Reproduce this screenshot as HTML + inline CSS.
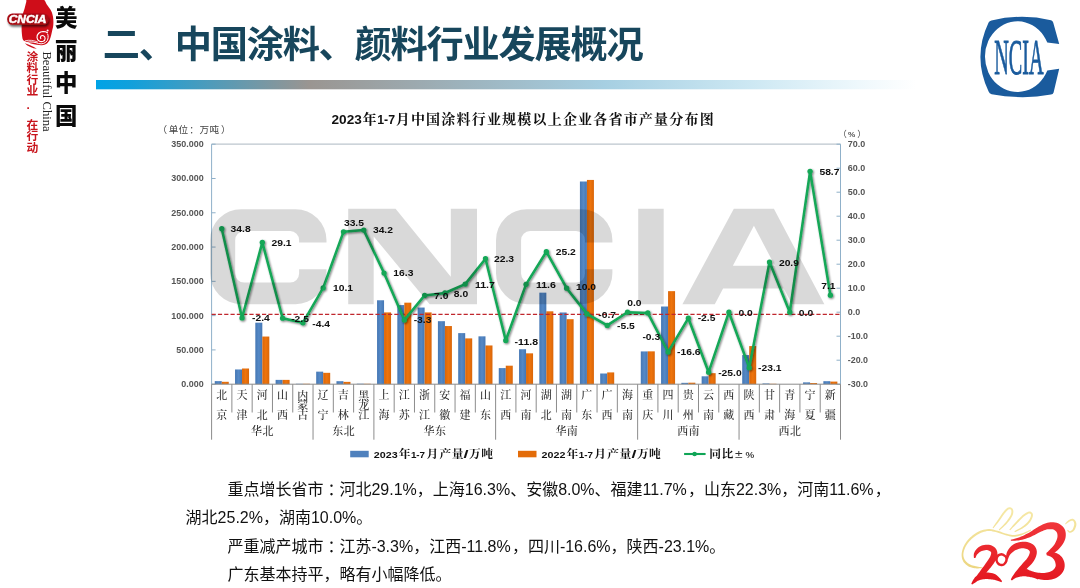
<!DOCTYPE html>
<html lang="zh-CN"><head><meta charset="utf-8"><title>二、中国涂料、颜料行业发展概况</title>
<style>
html,body{margin:0;padding:0;background:#fff}
body{width:1080px;height:588px;overflow:hidden;position:relative;font-family:"Liberation Sans",sans-serif}
svg{position:absolute;left:0;top:0;display:block;will-change:transform}
svg text{font-family:"Liberation Sans","Noto Sans CJK SC",sans-serif;white-space:pre}
svg text.cs{font-family:"Liberation Serif","Noto Serif CJK SC",serif}
.ser{font-family:"Liberation Serif",serif}
</style></head>
<body>
<svg width="1080" height="588" viewBox="0 0 1080 588" role="img" aria-label="二、中国涂料、颜料行业发展概况 — 2023年1-7月中国涂料行业规模以上企业各省市产量分布图">
<title>二、中国涂料、颜料行业发展概况</title>
<desc>2023年1-7月中国涂料行业规模以上企业各省市产量分布图（单位：万吨）。图例：2023年1-7月产量/万吨，2022年1-7月产量/万吨，同比±%。重点增长省市：河北29.1%，上海16.3%、安徽8.0%、福建11.7%，山东22.3%，河南11.6%，湖北25.2%，湖南10.0%。严重减产城市：江苏-3.3%，江西-11.8%，四川-16.6%，陕西-23.1%。广东基本持平，略有小幅降低。美丽中国 Beautiful China 涂料行业·在行动</desc>
<defs>
<linearGradient id="hb" x1="0" x2="1" y1="0" y2="0">
<stop offset="0" stop-color="#00a3e6"/><stop offset="0.04" stop-color="#10a0dc"/><stop offset="0.26" stop-color="#9a9591"/>
<stop offset="0.45" stop-color="#9db3bd"/><stop offset="0.62" stop-color="#a6cfe2"/><stop offset="0.8" stop-color="#cde8f3"/>
<stop offset="0.93" stop-color="#eef8fc"/><stop offset="1" stop-color="#ffffff"/></linearGradient>
<linearGradient id="gb" x1="0" x2="1" y1="0" y2="0"><stop offset="0" stop-color="#4577b4"/><stop offset="0.5" stop-color="#5589c6"/><stop offset="1" stop-color="#4577b4"/></linearGradient>
<linearGradient id="go" x1="0" x2="1" y1="0" y2="0"><stop offset="0" stop-color="#d9660a"/><stop offset="0.5" stop-color="#ee740c"/><stop offset="1" stop-color="#d9660a"/></linearGradient>
<filter id="sh" x="-5%" y="-5%" width="110%" height="115%"><feGaussianBlur in="SourceAlpha" stdDeviation="1.1"/><feOffset dx="0.8" dy="1.2"/><feComponentTransfer><feFuncA type="linear" slope="0.55"/></feComponentTransfer><feMerge><feMergeNode/><feMergeNode in="SourceGraphic"/></feMerge></filter>
<linearGradient id="gr" x1="0" x2="0" y1="0" y2="1"><stop offset="0" stop-color="#f0363a"/><stop offset="1" stop-color="#e3161f"/></linearGradient><linearGradient id="gy" x1="0" x2="0" y1="0" y2="1"><stop offset="0" stop-color="#f6e9a8"/><stop offset="1" stop-color="#ecd680"/></linearGradient>
<filter id="ls" x="-10%" y="-20%" width="125%" height="170%"><feGaussianBlur in="SourceAlpha" stdDeviation="1"/><feOffset dx="1.2" dy="1.6"/><feComponentTransfer><feFuncA type="linear" slope="0.6"/></feComponentTransfer><feMerge><feMergeNode/><feMergeNode in="SourceGraphic"/></feMerge></filter>
</defs>
<text x="102.7" y="58.1" font-size="37.2" font-weight="bold" fill="#17465c" textLength="541" lengthAdjust="spacing">二、中国涂料、颜料行业发展概况</text>
<rect x="96" y="80" width="820" height="9.3" fill="url(#hb)"/>
<g id="chart">
<text x="331.5" y="123.6" font-size="12" font-weight="bold" fill="#111" textLength="30.3" lengthAdjust="spacingAndGlyphs">2023</text>
<text class="cs" x="362.6" y="123.9" font-size="14" font-weight="bold" fill="#111">年</text>
<text x="377.2" y="123.6" font-size="12" font-weight="bold" fill="#111" textLength="17.8" lengthAdjust="spacingAndGlyphs">1-7</text>
<text class="cs" x="395.8" y="123.9" font-size="14" font-weight="bold" fill="#111">月</text>
<text class="cs" x="410.9" y="123.9" font-size="14" font-weight="bold" fill="#111" textLength="302.8" lengthAdjust="spacing">中国涂料行业规模以上企业各省市产量分布图</text>
<text x="157.5" y="132.9" font-size="9.6" fill="#444">（</text>
<text x="168.7" y="132.9" font-size="9.6" fill="#444" textLength="19.4" lengthAdjust="spacing">单位</text>
<text x="189.2" y="132.9" font-size="9.6" fill="#444">：</text>
<text x="199.4" y="132.9" font-size="9.6" fill="#444" textLength="19.6" lengthAdjust="spacing">万吨</text>
<text x="221.1" y="132.9" font-size="9.6" fill="#444">）</text>
<text x="837.9" y="137.4" font-size="8.8" fill="#444">（</text>
<text x="848" y="137.2" font-size="8" font-weight="bold" fill="#555" textLength="7.3" lengthAdjust="spacingAndGlyphs">%</text>
<text x="857.2" y="137.4" font-size="8.8" fill="#444">）</text>
<path d="M211.6 144.2 H840.5" stroke="#bcc6ce" stroke-width="1.3" fill="none"/>
<path d="M211.6 144.2 V384.2 M840.5 144.2 V384.2" stroke="#8fb0c9" stroke-width="1" fill="none"/>
<path d="M211.6 144.2h4M211.6 178.49h4M211.6 212.77h4M211.6 247.06h4M211.6 281.34h4M211.6 315.63h4M211.6 349.91h4M211.6 384.2h4M840.5 144.2h-4M840.5 168.2h-4M840.5 192.2h-4M840.5 216.2h-4M840.5 240.2h-4M840.5 264.2h-4M840.5 288.2h-4M840.5 312.2h-4M840.5 336.2h-4M840.5 360.2h-4M840.5 384.2h-4" stroke="#8fb0c9" stroke-width="1" fill="none"/>
<text x="203.7" y="147.2" text-anchor="end" font-size="8.5" font-weight="bold" fill="#555" textLength="32.45" lengthAdjust="spacingAndGlyphs">350.000</text>
<text x="203.7" y="181.49" text-anchor="end" font-size="8.5" font-weight="bold" fill="#555" textLength="32.45" lengthAdjust="spacingAndGlyphs">300.000</text>
<text x="203.7" y="215.77" text-anchor="end" font-size="8.5" font-weight="bold" fill="#555" textLength="32.45" lengthAdjust="spacingAndGlyphs">250.000</text>
<text x="203.7" y="250.06" text-anchor="end" font-size="8.5" font-weight="bold" fill="#555" textLength="32.45" lengthAdjust="spacingAndGlyphs">200.000</text>
<text x="203.7" y="284.34" text-anchor="end" font-size="8.5" font-weight="bold" fill="#555" textLength="32.45" lengthAdjust="spacingAndGlyphs">150.000</text>
<text x="203.7" y="318.63" text-anchor="end" font-size="8.5" font-weight="bold" fill="#555" textLength="32.45" lengthAdjust="spacingAndGlyphs">100.000</text>
<text x="203.7" y="352.91" text-anchor="end" font-size="8.5" font-weight="bold" fill="#555" textLength="27.45" lengthAdjust="spacingAndGlyphs">50.000</text>
<text x="203.7" y="387.2" text-anchor="end" font-size="8.5" font-weight="bold" fill="#555" textLength="22.45" lengthAdjust="spacingAndGlyphs">0.000</text>
<text x="847.7" y="147.2" font-size="8.5" font-weight="bold" fill="#555" textLength="17.45" lengthAdjust="spacingAndGlyphs">70.0</text>
<text x="847.7" y="171.2" font-size="8.5" font-weight="bold" fill="#555" textLength="17.45" lengthAdjust="spacingAndGlyphs">60.0</text>
<text x="847.7" y="195.2" font-size="8.5" font-weight="bold" fill="#555" textLength="17.45" lengthAdjust="spacingAndGlyphs">50.0</text>
<text x="847.7" y="219.2" font-size="8.5" font-weight="bold" fill="#555" textLength="17.45" lengthAdjust="spacingAndGlyphs">40.0</text>
<text x="847.7" y="243.2" font-size="8.5" font-weight="bold" fill="#555" textLength="17.45" lengthAdjust="spacingAndGlyphs">30.0</text>
<text x="847.7" y="267.2" font-size="8.5" font-weight="bold" fill="#555" textLength="17.45" lengthAdjust="spacingAndGlyphs">20.0</text>
<text x="847.7" y="291.2" font-size="8.5" font-weight="bold" fill="#555" textLength="17.45" lengthAdjust="spacingAndGlyphs">10.0</text>
<text x="847.7" y="315.2" font-size="8.5" font-weight="bold" fill="#555" textLength="12.45" lengthAdjust="spacingAndGlyphs">0.0</text>
<text x="847.7" y="339.2" font-size="8.5" font-weight="bold" fill="#555" textLength="20.35" lengthAdjust="spacingAndGlyphs">-10.0</text>
<text x="847.7" y="363.2" font-size="8.5" font-weight="bold" fill="#555" textLength="20.35" lengthAdjust="spacingAndGlyphs">-20.0</text>
<text x="847.7" y="387.2" font-size="8.5" font-weight="bold" fill="#555" textLength="20.35" lengthAdjust="spacingAndGlyphs">-30.0</text>
<rect x="214.75" y="381.11" width="7" height="3.09" fill="url(#gb)"/>
<rect x="221.75" y="381.8" width="7" height="2.4" fill="url(#go)"/>
<rect x="235.04" y="369.46" width="7" height="14.74" fill="url(#gb)"/>
<rect x="242.04" y="368.5" width="7" height="15.7" fill="url(#go)"/>
<rect x="255.32" y="322.69" width="7" height="61.51" fill="url(#gb)"/>
<rect x="262.32" y="336.54" width="7" height="47.66" fill="url(#go)"/>
<rect x="275.61" y="379.88" width="7" height="4.32" fill="url(#gb)"/>
<rect x="282.61" y="379.88" width="7" height="4.32" fill="url(#go)"/>
<rect x="295.9" y="383.79" width="7" height="0.41" fill="url(#gb)"/>
<rect x="302.9" y="383.79" width="7" height="0.41" fill="url(#go)"/>
<rect x="316.19" y="371.65" width="7" height="12.55" fill="url(#gb)"/>
<rect x="323.19" y="372.82" width="7" height="11.38" fill="url(#go)"/>
<rect x="336.47" y="381.18" width="7" height="3.02" fill="url(#gb)"/>
<rect x="343.47" y="381.87" width="7" height="2.33" fill="url(#go)"/>
<rect x="356.76" y="383.72" width="7" height="0.48" fill="url(#gb)"/>
<rect x="363.76" y="383.79" width="7" height="0.41" fill="url(#go)"/>
<rect x="377.05" y="300.27" width="7" height="83.93" fill="url(#gb)"/>
<rect x="384.05" y="312.41" width="7" height="71.79" fill="url(#go)"/>
<rect x="397.33" y="305.07" width="7" height="79.13" fill="url(#gb)"/>
<rect x="404.33" y="302.67" width="7" height="81.53" fill="url(#go)"/>
<rect x="417.62" y="307.54" width="7" height="76.66" fill="url(#gb)"/>
<rect x="424.62" y="312.41" width="7" height="71.79" fill="url(#go)"/>
<rect x="437.91" y="321.18" width="7" height="63.02" fill="url(#gb)"/>
<rect x="444.91" y="326.05" width="7" height="58.15" fill="url(#go)"/>
<rect x="458.2" y="333.11" width="7" height="51.09" fill="url(#gb)"/>
<rect x="465.2" y="338.39" width="7" height="45.81" fill="url(#go)"/>
<rect x="478.48" y="336.34" width="7" height="47.86" fill="url(#gb)"/>
<rect x="485.48" y="345.46" width="7" height="38.74" fill="url(#go)"/>
<rect x="498.77" y="368.09" width="7" height="16.11" fill="url(#gb)"/>
<rect x="505.77" y="365.69" width="7" height="18.51" fill="url(#go)"/>
<rect x="519.06" y="349.23" width="7" height="34.97" fill="url(#gb)"/>
<rect x="526.06" y="353.34" width="7" height="30.86" fill="url(#go)"/>
<rect x="539.34" y="292.66" width="7" height="91.54" fill="url(#gb)"/>
<rect x="546.34" y="311.31" width="7" height="72.89" fill="url(#go)"/>
<rect x="559.63" y="312.47" width="7" height="71.73" fill="url(#gb)"/>
<rect x="566.63" y="319.19" width="7" height="65.01" fill="url(#go)"/>
<rect x="579.92" y="181.5" width="7" height="202.7" fill="url(#gb)"/>
<rect x="586.92" y="179.93" width="7" height="204.27" fill="url(#go)"/>
<rect x="600.2" y="373.5" width="7" height="10.7" fill="url(#gb)"/>
<rect x="607.2" y="372.41" width="7" height="11.79" fill="url(#go)"/>
<rect x="640.78" y="351.42" width="7" height="32.78" fill="url(#gb)"/>
<rect x="647.78" y="351.35" width="7" height="32.85" fill="url(#go)"/>
<rect x="661.07" y="306.51" width="7" height="77.69" fill="url(#gb)"/>
<rect x="668.07" y="291.15" width="7" height="93.05" fill="url(#go)"/>
<rect x="681.35" y="382.83" width="7" height="1.37" fill="url(#gb)"/>
<rect x="688.35" y="382.69" width="7" height="1.51" fill="url(#go)"/>
<rect x="701.64" y="376.31" width="7" height="7.89" fill="url(#gb)"/>
<rect x="708.64" y="373.16" width="7" height="11.04" fill="url(#go)"/>
<rect x="742.21" y="355.06" width="7" height="29.14" fill="url(#gb)"/>
<rect x="749.21" y="346.07" width="7" height="38.13" fill="url(#go)"/>
<rect x="762.5" y="383.45" width="7" height="0.75" fill="url(#gb)"/>
<rect x="769.5" y="383.79" width="7" height="0.41" fill="url(#go)"/>
<rect x="803.08" y="382.35" width="7" height="1.85" fill="url(#gb)"/>
<rect x="810.08" y="383.03" width="7" height="1.17" fill="url(#go)"/>
<rect x="823.36" y="381.18" width="7" height="3.02" fill="url(#gb)"/>
<rect x="830.36" y="381.59" width="7" height="2.61" fill="url(#go)"/>
<path d="M211.6 384.2 H840.5" stroke="#8c8c8c" stroke-width="1" fill="none"/>
<path d="M211.6 384.2V439.7M231.89 384.2V412.5M252.17 384.2V412.5M272.46 384.2V412.5M292.75 384.2V412.5M313.04 384.2V439.7M333.32 384.2V412.5M353.61 384.2V412.5M373.9 384.2V439.7M394.18 384.2V412.5M414.47 384.2V412.5M434.76 384.2V412.5M455.05 384.2V412.5M475.33 384.2V412.5M495.62 384.2V439.7M515.91 384.2V412.5M536.19 384.2V412.5M556.48 384.2V412.5M576.77 384.2V412.5M597.05 384.2V412.5M617.34 384.2V412.5M637.63 384.2V439.7M657.92 384.2V412.5M678.2 384.2V412.5M698.49 384.2V412.5M718.78 384.2V412.5M739.06 384.2V439.7M759.35 384.2V412.5M779.64 384.2V412.5M799.93 384.2V412.5M820.21 384.2V412.5M840.5 384.2V439.7" stroke="#8c8c8c" stroke-width="1" fill="none"/>
<g font-size="11" font-weight="500" fill="#2b2b2b">
<text class="cs" x="216.14" y="399.37">北</text><text class="cs" x="216.14" y="419.07">京</text>
<text class="cs" x="236.43" y="399.37">天</text><text class="cs" x="236.43" y="419.07">津</text>
<text class="cs" x="256.72" y="399.37">河</text><text class="cs" x="256.72" y="419.07">北</text>
<text class="cs" x="277" y="399.37">山</text><text class="cs" x="277" y="419.07">西</text>
<text class="cs" x="297.29" y="400.37">内</text><text class="cs" x="297.29" y="409.37">蒙</text><text class="cs" x="297.29" y="418.57">古</text>
<text class="cs" x="317.58" y="399.37">辽</text><text class="cs" x="317.58" y="419.07">宁</text>
<text class="cs" x="337.87" y="399.37">吉</text><text class="cs" x="337.87" y="419.07">林</text>
<text class="cs" x="358.15" y="400.37">黑</text><text class="cs" x="358.15" y="409.37">龙</text><text class="cs" x="358.15" y="418.57">江</text>
<text class="cs" x="378.44" y="399.37">上</text><text class="cs" x="378.44" y="419.07">海</text>
<text class="cs" x="398.73" y="399.37">江</text><text class="cs" x="398.73" y="419.07">苏</text>
<text class="cs" x="419.01" y="399.37">浙</text><text class="cs" x="419.01" y="419.07">江</text>
<text class="cs" x="439.3" y="399.37">安</text><text class="cs" x="439.3" y="419.07">徽</text>
<text class="cs" x="459.59" y="399.37">福</text><text class="cs" x="459.59" y="419.07">建</text>
<text class="cs" x="479.88" y="399.37">山</text><text class="cs" x="479.88" y="419.07">东</text>
<text class="cs" x="500.16" y="399.37">江</text><text class="cs" x="500.16" y="419.07">西</text>
<text class="cs" x="520.45" y="399.37">河</text><text class="cs" x="520.45" y="419.07">南</text>
<text class="cs" x="540.74" y="399.37">湖</text><text class="cs" x="540.74" y="419.07">北</text>
<text class="cs" x="561.02" y="399.37">湖</text><text class="cs" x="561.02" y="419.07">南</text>
<text class="cs" x="581.31" y="399.37">广</text><text class="cs" x="581.31" y="419.07">东</text>
<text class="cs" x="601.6" y="399.37">广</text><text class="cs" x="601.6" y="419.07">西</text>
<text class="cs" x="621.89" y="399.37">海</text><text class="cs" x="621.89" y="419.07">南</text>
<text class="cs" x="642.17" y="399.37">重</text><text class="cs" x="642.17" y="419.07">庆</text>
<text class="cs" x="662.46" y="399.37">四</text><text class="cs" x="662.46" y="419.07">川</text>
<text class="cs" x="682.75" y="399.37">贵</text><text class="cs" x="682.75" y="419.07">州</text>
<text class="cs" x="703.03" y="399.37">云</text><text class="cs" x="703.03" y="419.07">南</text>
<text class="cs" x="723.32" y="399.37">西</text><text class="cs" x="723.32" y="419.07">藏</text>
<text class="cs" x="743.61" y="399.37">陕</text><text class="cs" x="743.61" y="419.07">西</text>
<text class="cs" x="763.9" y="399.37">甘</text><text class="cs" x="763.9" y="419.07">肃</text>
<text class="cs" x="784.18" y="399.37">青</text><text class="cs" x="784.18" y="419.07">海</text>
<text class="cs" x="804.47" y="399.37">宁</text><text class="cs" x="804.47" y="419.07">夏</text>
<text class="cs" x="824.76" y="399.37">新</text><text class="cs" x="824.76" y="419.07">疆</text>
<text class="cs" x="251.12" y="434.87" textLength="22.4" lengthAdjust="spacing">华北</text>
<text class="cs" x="332.27" y="434.87" textLength="22.4" lengthAdjust="spacing">东北</text>
<text class="cs" x="423.56" y="434.87" textLength="22.4" lengthAdjust="spacing">华东</text>
<text class="cs" x="555.42" y="434.87" textLength="22.4" lengthAdjust="spacing">华南</text>
<text class="cs" x="677.15" y="434.87" textLength="22.4" lengthAdjust="spacing">西南</text>
<text class="cs" x="778.58" y="434.87" textLength="22.4" lengthAdjust="spacing">西北</text>
</g>
<path d="M211.6 314.4H840.5" stroke="#c0272d" stroke-width="1.3" stroke-dasharray="4.2 2.1" fill="none"/>
<g filter="url(#sh)"><path d="M221.74 228.68 L242.03 317.96 L262.32 242.36 L282.6 318.2 L302.89 322.76 L323.18 287.96 L343.47 231.8 L363.75 230.12 L384.04 273.08 L404.33 320.12 L424.61 295.4 L444.9 293 L465.19 284.12 L485.48 258.68 L505.76 340.52 L526.05 284.36 L546.34 251.72 L566.62 288.2 L586.91 313.88 L607.2 325.4 L627.49 312.2 L647.77 312.92 L668.06 352.04 L688.35 318.2 L708.63 372.2 L728.92 312.2 L749.21 367.64 L769.5 262.04 L789.78 312.2 L810.07 171.32 L830.36 295.16" stroke="#12a757" stroke-width="2.5" fill="none" stroke-linejoin="round" stroke-linecap="round"/>
<circle cx="221.74" cy="228.68" r="2.65" fill="#12a757"/><circle cx="242.03" cy="317.96" r="2.65" fill="#12a757"/><circle cx="262.32" cy="242.36" r="2.65" fill="#12a757"/><circle cx="282.6" cy="318.2" r="2.65" fill="#12a757"/><circle cx="302.89" cy="322.76" r="2.65" fill="#12a757"/><circle cx="323.18" cy="287.96" r="2.65" fill="#12a757"/><circle cx="343.47" cy="231.8" r="2.65" fill="#12a757"/><circle cx="363.75" cy="230.12" r="2.65" fill="#12a757"/><circle cx="384.04" cy="273.08" r="2.65" fill="#12a757"/><circle cx="404.33" cy="320.12" r="2.65" fill="#12a757"/><circle cx="424.61" cy="295.4" r="2.65" fill="#12a757"/><circle cx="444.9" cy="293" r="2.65" fill="#12a757"/><circle cx="465.19" cy="284.12" r="2.65" fill="#12a757"/><circle cx="485.48" cy="258.68" r="2.65" fill="#12a757"/><circle cx="505.76" cy="340.52" r="2.65" fill="#12a757"/><circle cx="526.05" cy="284.36" r="2.65" fill="#12a757"/><circle cx="546.34" cy="251.72" r="2.65" fill="#12a757"/><circle cx="566.62" cy="288.2" r="2.65" fill="#12a757"/><circle cx="586.91" cy="313.88" r="2.65" fill="#12a757"/><circle cx="607.2" cy="325.4" r="2.65" fill="#12a757"/><circle cx="627.49" cy="312.2" r="2.65" fill="#12a757"/><circle cx="647.77" cy="312.92" r="2.65" fill="#12a757"/><circle cx="668.06" cy="352.04" r="2.65" fill="#12a757"/><circle cx="688.35" cy="318.2" r="2.65" fill="#12a757"/><circle cx="708.63" cy="372.2" r="2.65" fill="#12a757"/><circle cx="728.92" cy="312.2" r="2.65" fill="#12a757"/><circle cx="749.21" cy="367.64" r="2.65" fill="#12a757"/><circle cx="769.5" cy="262.04" r="2.65" fill="#12a757"/><circle cx="789.78" cy="312.2" r="2.65" fill="#12a757"/><circle cx="810.07" cy="171.32" r="2.65" fill="#12a757"/><circle cx="830.36" cy="295.16" r="2.65" fill="#12a757"/></g>
<text x="230.6" y="232.2" font-size="9" font-weight="bold" fill="#111" textLength="20.1" lengthAdjust="spacingAndGlyphs">34.8</text>
<text x="271.5" y="245.8" font-size="9" font-weight="bold" fill="#111" textLength="20.1" lengthAdjust="spacingAndGlyphs">29.1</text>
<text x="343.9" y="225.7" font-size="9" font-weight="bold" fill="#111" textLength="20.1" lengthAdjust="spacingAndGlyphs">33.5</text>
<text x="372.9" y="233.2" font-size="9" font-weight="bold" fill="#111" textLength="20.1" lengthAdjust="spacingAndGlyphs">34.2</text>
<text x="393.3" y="276.4" font-size="9" font-weight="bold" fill="#111" textLength="20.1" lengthAdjust="spacingAndGlyphs">16.3</text>
<text x="333" y="290.7" font-size="9" font-weight="bold" fill="#111" textLength="20.1" lengthAdjust="spacingAndGlyphs">10.1</text>
<text x="494" y="261.8" font-size="9" font-weight="bold" fill="#111" textLength="20.1" lengthAdjust="spacingAndGlyphs">22.3</text>
<text x="474.9" y="288" font-size="9" font-weight="bold" fill="#111" textLength="20.1" lengthAdjust="spacingAndGlyphs">11.7</text>
<text x="453.8" y="296.5" font-size="9" font-weight="bold" fill="#111" textLength="14.35" lengthAdjust="spacingAndGlyphs">8.0</text>
<text x="434.1" y="298.8" font-size="9" font-weight="bold" fill="#111" textLength="14.35" lengthAdjust="spacingAndGlyphs">7.0</text>
<text x="252.1" y="321.3" font-size="9" font-weight="bold" fill="#111" textLength="17.75" lengthAdjust="spacingAndGlyphs">-2.4</text>
<text x="291.2" y="322.3" font-size="9" font-weight="bold" fill="#111" textLength="17.75" lengthAdjust="spacingAndGlyphs">-2.5</text>
<text x="312.3" y="326.8" font-size="9" font-weight="bold" fill="#111" textLength="17.75" lengthAdjust="spacingAndGlyphs">-4.4</text>
<text x="413.7" y="323.3" font-size="9" font-weight="bold" fill="#111" textLength="17.75" lengthAdjust="spacingAndGlyphs">-3.3</text>
<text x="535.9" y="287.5" font-size="9" font-weight="bold" fill="#111" textLength="20.1" lengthAdjust="spacingAndGlyphs">11.6</text>
<text x="576" y="290.4" font-size="9" font-weight="bold" fill="#111" textLength="20.1" lengthAdjust="spacingAndGlyphs">10.0</text>
<text x="598.3" y="317.9" font-size="9" font-weight="bold" fill="#111" textLength="17.75" lengthAdjust="spacingAndGlyphs">-0.7</text>
<text x="617.1" y="329.1" font-size="9" font-weight="bold" fill="#111" textLength="17.75" lengthAdjust="spacingAndGlyphs">-5.5</text>
<text x="627.2" y="305.6" font-size="9" font-weight="bold" fill="#111" textLength="14.35" lengthAdjust="spacingAndGlyphs">0.0</text>
<text x="642.4" y="339.9" font-size="9" font-weight="bold" fill="#111" textLength="17.75" lengthAdjust="spacingAndGlyphs">-0.3</text>
<text x="677.1" y="355.4" font-size="9" font-weight="bold" fill="#111" textLength="23.5" lengthAdjust="spacingAndGlyphs">-16.6</text>
<text x="697.7" y="321.1" font-size="9" font-weight="bold" fill="#111" textLength="17.75" lengthAdjust="spacingAndGlyphs">-2.5</text>
<text x="718.2" y="376" font-size="9" font-weight="bold" fill="#111" textLength="23.5" lengthAdjust="spacingAndGlyphs">-25.0</text>
<text x="738.5" y="316.1" font-size="9" font-weight="bold" fill="#111" textLength="14.35" lengthAdjust="spacingAndGlyphs">0.0</text>
<text x="758" y="371.3" font-size="9" font-weight="bold" fill="#111" textLength="23.5" lengthAdjust="spacingAndGlyphs">-23.1</text>
<text x="798.8" y="316.1" font-size="9" font-weight="bold" fill="#111" textLength="14.35" lengthAdjust="spacingAndGlyphs">0.0</text>
<text x="821.2" y="288.6" font-size="9" font-weight="bold" fill="#111" textLength="14.35" lengthAdjust="spacingAndGlyphs">7.1</text>
<text x="514.6" y="344.6" font-size="9" font-weight="bold" fill="#111" textLength="23.5" lengthAdjust="spacingAndGlyphs">-11.8</text>
<text x="555.7" y="255.2" font-size="9" font-weight="bold" fill="#111" textLength="20.1" lengthAdjust="spacingAndGlyphs">25.2</text>
<text x="819.4" y="174.7" font-size="9" font-weight="bold" fill="#111" textLength="20.1" lengthAdjust="spacingAndGlyphs">58.7</text>
<text x="778.9" y="265.7" font-size="9" font-weight="bold" fill="#111" textLength="20.1" lengthAdjust="spacingAndGlyphs">20.9</text>
<rect x="350.2" y="450.8" width="18.5" height="6.5" fill="#4f81bd"/>
<text x="373.8" y="457.6" font-size="9.8" font-weight="bold" fill="#111" textLength="23.8" lengthAdjust="spacingAndGlyphs">2023</text>
<text class="cs" x="398.7" y="458.2" font-size="11.8" font-weight="bold" fill="#111">年</text>
<text x="410.9" y="457.6" font-size="9.8" font-weight="bold" fill="#111" textLength="14.2" lengthAdjust="spacingAndGlyphs">1-7</text>
<text class="cs" x="426.5" y="458.2" font-size="11.8" font-weight="bold" fill="#111">月</text>
<text class="cs" x="439.5" y="458.2" font-size="11.8" font-weight="bold" fill="#111" textLength="24" lengthAdjust="spacing">产量</text>
<text class="cs" x="469.1" y="458.2" font-size="11.8" font-weight="bold" fill="#111" textLength="24" lengthAdjust="spacing">万吨</text>
<text x="463.6" y="458" font-size="11" font-weight="bold" fill="#111" textLength="5" lengthAdjust="spacingAndGlyphs">/</text>
<rect x="518" y="450.8" width="18.5" height="6.5" fill="#e36c09"/>
<text x="541.6" y="457.6" font-size="9.8" font-weight="bold" fill="#111" textLength="23.8" lengthAdjust="spacingAndGlyphs">2022</text>
<text class="cs" x="566.5" y="458.2" font-size="11.8" font-weight="bold" fill="#111">年</text>
<text x="578.7" y="457.6" font-size="9.8" font-weight="bold" fill="#111" textLength="14.2" lengthAdjust="spacingAndGlyphs">1-7</text>
<text class="cs" x="594.3" y="458.2" font-size="11.8" font-weight="bold" fill="#111">月</text>
<text class="cs" x="607.3" y="458.2" font-size="11.8" font-weight="bold" fill="#111" textLength="24" lengthAdjust="spacing">产量</text>
<text class="cs" x="636.9" y="458.2" font-size="11.8" font-weight="bold" fill="#111" textLength="24" lengthAdjust="spacing">万吨</text>
<text x="631.4" y="458" font-size="11" font-weight="bold" fill="#111" textLength="5" lengthAdjust="spacingAndGlyphs">/</text>
<path d="M684.1 454H705.6" stroke="#10a556" stroke-width="2.1" fill="none"/><circle cx="694.6" cy="454" r="2.3" fill="#10a556"/>
<text class="cs" x="709.3" y="458.2" font-size="11.8" font-weight="bold" fill="#111" textLength="24" lengthAdjust="spacing">同比</text>
<text x="735" y="457.6" font-size="10" fill="#333" textLength="7.6" lengthAdjust="spacingAndGlyphs">±</text>
<text x="745.6" y="457.6" font-size="9.6" font-weight="bold" fill="#444" textLength="8.8" lengthAdjust="spacingAndGlyphs">%</text>
</g>
<path d="M241.1 209.2H295.5 A31 31 0 0 1 326.5 240.2V242.4 H299.1 V240 A9 9 0 0 0 290.1 231H244.2 A9 9 0 0 0 235.2 240V273.6 A9 9 0 0 0 244.2 282.6H290.1 A9 9 0 0 0 299.1 273.6V269.2 H326.5 V273.2 A31 31 0 0 1 295.5 304.2H241.1 A31 31 0 0 1 210.1 273.2V240.2 A31 31 0 0 1 241.1 209.2ZM527 209.2H581.4 A31 31 0 0 1 612.4 240.2V242.4 H585 V240 A9 9 0 0 0 576 231H530.1 A9 9 0 0 0 521.1 240V273.6 A9 9 0 0 0 530.1 282.6H576 A9 9 0 0 0 585 273.6V269.2 H612.4 V273.2 A31 31 0 0 1 581.4 304.2H527 A31 31 0 0 1 496 273.2V240.2 A31 31 0 0 1 527 209.2ZM348.2 208.8H395.6L450.8 276.8V208.8H477V304.3H429.6L373.7 236.4V304.3H348.2ZM638.2 208.8H663.7V304.3H638.2ZM733.8 208.8H773.9L824.4 304.3H792L783.7 288.4H723.1L714.8 304.3H682.4ZM753.9 225.7L774.9 265.8H732.9Z" fill="#000" fill-opacity="0.15" fill-rule="evenodd"/>
<text x="227.4" y="494.9" font-size="16" fill="#111">重点增长省市</text>
<text x="327.4" y="494.9" font-size="16" fill="#111">：</text>
<text x="339.4" y="494.9" font-size="16" fill="#111">河北</text>
<text x="371.4" y="494.9" font-size="16" fill="#111">29.1%</text>
<text x="416.77" y="494.9" font-size="16" fill="#111">，上海</text>
<text x="464.77" y="494.9" font-size="16" fill="#111">16.3%</text>
<text x="510.13" y="494.9" font-size="16" fill="#111">、安徽</text>
<text x="558.13" y="494.9" font-size="16" fill="#111">8.0%</text>
<text x="594.6" y="494.9" font-size="16" fill="#111">、福建</text>
<text x="642.6" y="494.9" font-size="16" fill="#111">11.7%</text>
<text x="687.97" y="494.9" font-size="16" fill="#111">，山东</text>
<text x="735.97" y="494.9" font-size="16" fill="#111">22.3%</text>
<text x="781.34" y="494.9" font-size="16" fill="#111">，河南</text>
<text x="829.34" y="494.9" font-size="16" fill="#111">11.6%</text>
<text x="874.7" y="494.9" font-size="16" fill="#111">，</text>
<text x="185.6" y="523.3" font-size="16" fill="#111">湖北</text>
<text x="217.6" y="523.3" font-size="16" fill="#111">25.2%</text>
<text x="262.97" y="523.3" font-size="16" fill="#111">，湖南</text>
<text x="310.97" y="523.3" font-size="16" fill="#111">10.0%</text>
<text x="356.33" y="523.3" font-size="16" fill="#111">。</text>
<text x="227.4" y="551.7" font-size="16" fill="#111">严重减产城市</text>
<text x="327.4" y="551.7" font-size="16" fill="#111">：</text>
<text x="339.4" y="551.7" font-size="16" fill="#111">江苏</text>
<text x="371.4" y="551.7" font-size="16" fill="#111">-3.3%</text>
<text x="413.2" y="551.7" font-size="16" fill="#111">，江西</text>
<text x="461.2" y="551.7" font-size="16" fill="#111">-11.8%</text>
<text x="511.89" y="551.7" font-size="16" fill="#111">，四川</text>
<text x="559.89" y="551.7" font-size="16" fill="#111">-16.6%</text>
<text x="610.59" y="551.7" font-size="16" fill="#111">，陕西</text>
<text x="658.59" y="551.7" font-size="16" fill="#111">-23.1%</text>
<text x="709.28" y="551.7" font-size="16" fill="#111">。</text>
<text x="227.4" y="580.1" font-size="16" fill="#111">广东基本持平，略有小幅降低。</text>
<g id="logo-left">
<path d="M27.2 -1C28.67 -1.62 32.28 -1.58 35 -1.5C37.72 -1.42 41.53 -1.48 43.5 -0.5C45.47 0.48 45.52 2.5 46.8 4.4C48.08 6.3 50.15 8.73 51.2 10.9C52.25 13.07 52.75 15.05 53.1 17.4C53.45 19.75 53.45 22.82 53.3 25C53.15 27.18 52.55 28.83 52.2 30.5C51.85 32.17 51.63 33.42 51.2 35C50.77 36.58 50.37 38.53 49.6 40C48.83 41.47 47.87 42.93 46.6 43.8C45.33 44.67 43.6 45.03 42 45.2C40.4 45.37 38.83 45.1 37 44.8C35.17 44.5 32.83 43.9 31 43.4C29.17 42.9 27.33 42.4 26 41.8C24.67 41.2 23.68 41.1 23 39.8C22.32 38.5 22.13 36.3 21.9 34C21.67 31.7 21.53 28.95 21.6 26C21.67 23.05 21.82 19.18 22.3 16.3C22.78 13.42 23.85 11.05 24.5 8.7C25.15 6.35 25.75 3.82 26.2 2.2C26.65 0.58 25.73 -0.38 27.2 -1Z" fill="#cf0d19"/>
<g fill="none" stroke="#fff" stroke-linecap="round"><path d="M40.8 38.6 C39.6 36.8 41.4 34.9 43.4 35.7 C45.7 36.7 45.7 40.1 43.2 41.3 C40.4 42.5 37.2 40.7 37 37.5 C36.8 34.1 39.6 31.6 43 31.5 C45 31.5 46.4 31.9 47.4 32.8" stroke-width="1.15"/><path d="M27 42.3 C31 41.3 35.4 42.3 38.6 43.5 C42 44.5 45.6 43.3 47.2 40.6 C48.3 38.6 48.4 36.2 47.8 34.4" stroke-width="1"/><path d="M25.2 40.8 C29.5 39.6 34 40.4 37.6 42" stroke-width="0.8"/></g>
<circle cx="47.6" cy="30.6" r="1" fill="#fff"/>
<path d="M24.8 43.2 C28.4 44.2 33 46.4 36.8 48.8 C32.6 48.4 27.8 46.4 24.8 43.2Z" fill="#cf0d19"/>
<g filter="url(#ls)"><rect x="7.2" y="13.6" width="41.4" height="11.2" rx="5.2" fill="#a80c15"/></g>
<text x="8.7" y="23.1" font-size="10.8" font-weight="bold" font-style="italic" fill="#fff" stroke="#fff" stroke-width="0.5" textLength="37.8" lengthAdjust="spacingAndGlyphs">CNCIA</text>
<g font-size="11.8" font-weight="bold" fill="#c8141c">
<text x="26.4" y="60.7">涂</text>
<text x="26.4" y="72.3">料</text>
<text x="26.4" y="83.6">行</text>
<text x="26.4" y="95">业</text>
<text x="26.4" y="111.9">·</text>
<text x="26.4" y="129.2">在</text>
<text x="26.4" y="140.2">行</text>
<text x="26.4" y="151.5">动</text>
</g>
<text style="font-family:'Liberation Serif',serif" transform="translate(43.0 51.4) rotate(90)" font-size="13.5" fill="#222" textLength="80.2" lengthAdjust="spacingAndGlyphs">Beautiful China</text>
<g font-size="22.4" font-weight="900" fill="#0a0a0a">
<text x="55" y="26.19">美</text>
<text x="55" y="58.99">丽</text>
<text x="55" y="90.99">中</text>
<text x="55" y="123.79">国</text>
</g>
</g>
<g id="logo-right">
<path d="M988.6 22.6 Q989.4 21 991.4 20.4 Q1022 13.2 1051 20.2 Q1052.6 20.6 1053.2 22.4 L1059.2 43.9 L1047.3 42.6 A32.5 35.3 0 1 0 1047.3 70.6 L1059.2 68.7 L1053.6 92.4 Q1053 94.2 1051 94.6 Q1022 99.9 991.6 94.2 Q989.4 93.6 988.6 91.6 Q972.2 57 988.6 22.6Z" fill="#1a5b9d"/>
<text style="font-family:'Liberation Serif',serif" transform="translate(994.2 73.8) scale(0.392 1)" font-size="51.5" fill="#1a5b9d" stroke="#1a5b9d" stroke-width="0.7" vector-effect="non-scaling-stroke">NCIA</text>
</g>
<g id="logo-2023">
<path d="M982.01 567.23L981.34 567.15L980.43 567.06L979.35 566.93L978.2 566.78L977.06 566.6L975.99 566.37L974.94 566.11L973.83 565.83L972.73 565.51L971.66 565.15L970.65 564.75L969.73 564.29L968.85 563.75L967.96 563.15L967.12 562.5L966.35 561.8L965.67 561.06L965.09 560.27L964.59 559.41L964.15 558.49L963.79 557.5L963.53 556.45L963.38 555.35L963.37 554.21L963.49 552.99L963.76 551.68L964.14 550.31L964.63 548.93L965.21 547.58L965.86 546.29L966.6 545.03L967.44 543.79L968.37 542.56L969.38 541.37L970.45 540.22L971.58 539.12L972.78 538.06L974.07 537.01L975.42 536L976.82 535.06L978.23 534.21L979.64 533.48L981.05 532.83L982.51 532.26L983.98 531.78L985.45 531.4L986.92 531.12L988.37 530.97L989.8 530.97L991.25 531.12L992.72 531.38L994.22 531.73L995.75 532.11L997.27 532.5L998.78 532.93L1000.3 533.45L1001.84 534.01L1003.39 534.57L1004.93 535.09L1006.45 535.51L1007.91 535.85L1009.33 536.17L1010.75 536.44L1012.16 536.63L1013.6 536.73L1015.05 536.7L1016.53 536.53L1017.99 536.24L1019.44 535.85L1020.87 535.39L1022.25 534.89L1023.61 534.37L1025.01 533.76L1026.47 533.04L1027.9 532.27L1029.2 531.54L1030.29 530.92L1031.08 530.48L1030.58 529.52L1029.76 529.91L1028.64 530.47L1027.31 531.13L1025.87 531.8L1024.43 532.44L1023.06 532.96L1021.73 533.41L1020.37 533.86L1019 534.26L1017.62 534.59L1016.27 534.84L1014.95 534.97L1013.64 534.98L1012.34 534.89L1011.02 534.71L1009.68 534.46L1008.3 534.16L1006.88 533.83L1005.44 533.43L1003.96 532.94L1002.43 532.39L1000.87 531.83L999.3 531.29L997.73 530.83L996.2 530.41L994.66 529.99L993.11 529.6L991.53 529.27L989.92 529.07L988.3 529.03L986.67 529.15L985.04 529.41L983.42 529.78L981.81 530.27L980.24 530.85L978.7 531.52L977.17 532.31L975.65 533.21L974.16 534.21L972.72 535.28L971.36 536.4L970.09 537.54L968.91 538.73L967.78 539.99L966.74 541.29L965.77 542.63L964.9 544L964.14 545.38L963.47 546.81L962.9 548.29L962.42 549.79L962.04 551.29L961.78 552.74L961.63 554.12L961.61 555.44L961.72 556.73L961.93 557.98L962.26 559.18L962.7 560.32L963.24 561.4L963.91 562.42L964.7 563.37L965.59 564.25L966.54 565.05L967.55 565.76L968.6 566.38L969.72 566.91L970.91 567.34L972.13 567.68L973.34 567.94L974.53 568.14L975.68 568.3L976.87 568.38L978.11 568.38L979.31 568.32L980.41 568.23L981.33 568.15L981.99 568.1ZM993.43 528.32L994.04 527.58L994.87 526.57L995.86 525.36L996.93 524.03L998.02 522.66L999.04 521.34L1000.03 519.97L1001.06 518.5L1002.08 517.01L1003.09 515.56L1004.04 514.24L1004.93 513.11L1005.75 512.14L1006.53 511.27L1007.25 510.52L1007.92 509.92L1008.51 509.5L1008.99 509.25L1009.41 509.16L1009.84 509.18L1010.26 509.31L1010.63 509.51L1010.92 509.78L1011.12 510.08L1011.26 510.52L1011.36 511.15L1011.37 511.91L1011.29 512.76L1011.09 513.67L1010.77 514.63L1010.28 515.68L1009.62 516.84L1008.84 518.09L1007.95 519.37L1006.99 520.67L1006.01 521.94L1004.87 523.28L1003.53 524.74L1002.12 526.22L1000.77 527.6L999.61 528.76L998.79 529.61L999.54 530.39L1000.41 529.6L1001.64 528.51L1003.09 527.22L1004.61 525.82L1006.07 524.4L1007.33 523.06L1008.41 521.78L1009.44 520.47L1010.39 519.14L1011.25 517.84L1011.99 516.57L1012.57 515.37L1012.98 514.21L1013.23 513.07L1013.34 511.99L1013.31 510.98L1013.16 510.07L1012.88 509.25L1012.42 508.52L1011.77 507.93L1011.01 507.51L1010.16 507.26L1009.25 507.22L1008.34 507.41L1007.49 507.83L1006.69 508.4L1005.89 509.11L1005.09 509.93L1004.26 510.86L1003.41 511.89L1002.49 513.09L1001.52 514.47L1000.52 515.95L999.52 517.47L998.55 518.95L997.63 520.33L996.69 521.69L995.71 523.12L994.74 524.52L993.86 525.8L993.11 526.89L992.57 527.68ZM1010.07 530.37L1010.75 529.68L1011.68 528.73L1012.8 527.61L1014.01 526.38L1015.25 525.13L1016.46 523.93L1017.68 522.7L1018.96 521.38L1020.28 520.03L1021.58 518.74L1022.82 517.56L1023.96 516.58L1025.03 515.75L1026.06 515.01L1027.04 514.39L1027.92 513.91L1028.68 513.6L1029.26 513.47L1029.71 513.49L1030.12 513.63L1030.49 513.86L1030.77 514.18L1030.96 514.56L1031.03 515.01L1030.94 515.69L1030.69 516.64L1030.27 517.74L1029.73 518.9L1029.09 520.04L1028.39 521.08L1027.58 522.05L1026.61 523.04L1025.54 524.02L1024.38 524.98L1023.19 525.91L1022.02 526.78L1020.75 527.63L1019.33 528.49L1017.85 529.32L1016.46 530.08L1015.28 530.71L1014.42 531.18L1014.91 532.15L1015.79 531.75L1017.02 531.22L1018.48 530.57L1020.05 529.84L1021.59 529.05L1022.98 528.22L1024.25 527.36L1025.52 526.44L1026.76 525.46L1027.93 524.43L1029 523.36L1029.94 522.26L1030.76 521.07L1031.48 519.8L1032.08 518.51L1032.55 517.24L1032.86 516.07L1032.97 514.99L1032.82 513.99L1032.4 513.1L1031.76 512.39L1030.96 511.87L1030.05 511.57L1029.08 511.53L1028.09 511.74L1027.09 512.14L1026.04 512.7L1024.96 513.38L1023.85 514.18L1022.71 515.08L1021.51 516.14L1020.24 517.38L1018.93 518.72L1017.63 520.1L1016.37 521.46L1015.21 522.74L1014.06 524.01L1012.89 525.35L1011.77 526.66L1010.75 527.88L1009.89 528.89L1009.27 529.63ZM1065.63 524.48L1066.08 524.12L1066.71 523.61L1067.43 523.02L1068.2 522.44L1068.94 521.94L1069.59 521.59L1070.24 521.32L1070.93 521.06L1071.59 520.86L1072.18 520.76L1072.62 520.77L1072.88 520.86L1073.14 521.1L1073.47 521.53L1073.78 522.12L1074.03 522.8L1074.19 523.5L1074.25 524.16L1074.18 524.92L1073.99 525.86L1073.7 526.87L1073.33 527.87L1072.93 528.75L1072.55 529.42L1072.15 529.92L1071.66 530.35L1071.12 530.71L1070.56 530.98L1070.06 531.16L1069.72 531.24L1069.51 531.23L1069.2 531.05L1068.84 530.72L1068.49 530.31L1068.17 529.92L1067.92 529.65L1067.08 530.35L1067.27 530.61L1067.53 531.02L1067.87 531.53L1068.3 532.06L1068.88 532.52L1069.62 532.76L1070.36 532.72L1071.11 532.56L1071.9 532.27L1072.7 531.85L1073.45 531.29L1074.12 530.58L1074.69 529.71L1075.21 528.69L1075.68 527.57L1076.06 526.4L1076.32 525.25L1076.42 524.17L1076.32 523.14L1076.05 522.14L1075.66 521.21L1075.15 520.38L1074.54 519.68L1073.79 519.14L1072.9 518.87L1072.01 518.87L1071.14 519.03L1070.29 519.31L1069.5 519.67L1068.74 520.08L1067.99 520.63L1067.25 521.33L1066.55 522.08L1065.92 522.81L1065.41 523.43L1065.04 523.85Z" fill="url(#gy)"/>
<path d="M975.41 558.12L975.6 557.61L975.84 556.91L976.12 556.16L976.47 555.41L976.87 554.77L977.32 554.25L977.92 553.67L978.65 552.99L979.46 552.33L980.3 551.74L981.12 551.26L981.91 550.92L982.79 550.65L983.85 550.4L984.98 550.21L986.1 550.1L987.1 550.11L987.88 550.21L988.56 550.42L989.27 550.75L989.94 551.17L990.51 551.62L990.9 552.05L991.08 552.35L991.14 552.6L991.16 552.95L991.14 553.44L991.04 554.06L990.86 554.8L990.6 555.59L990.23 556.44L989.71 557.41L989.04 558.51L988.26 559.7L987.4 560.97L986.53 562.27L985.62 563.6L984.64 564.97L983.59 566.4L982.51 567.86L981.44 569.31L980.4 570.72L979.38 572.13L978.34 573.56L977.3 574.99L976.31 576.36L975.38 577.65L974.55 578.8L973.83 579.85L973.15 580.84L972.55 581.75L972.01 582.55L971.57 583.21L971.23 583.72L972.1 584.61L972.61 584.29L973.29 583.87L974.12 583.36L975.06 582.74L976.07 582.02L977.11 581.2L978.22 580.26L979.44 579.19L980.72 578.03L982.03 576.81L983.34 575.54L984.6 574.28L985.83 572.99L987.09 571.65L988.35 570.26L989.57 568.85L990.74 567.44L991.81 566.06L992.79 564.72L993.73 563.38L994.63 562.01L995.45 560.62L996.17 559.18L996.73 557.74L997.12 556.34L997.35 554.95L997.42 553.54L997.29 552.11L996.92 550.69L996.25 549.31L995.32 548.11L994.22 547.12L992.99 546.29L991.67 545.62L990.26 545.11L988.79 544.79L987.26 544.68L985.71 544.75L984.14 544.96L982.61 545.31L981.14 545.78L979.76 546.41L978.5 547.22L977.38 548.19L976.42 549.23L975.59 550.3L974.91 551.36L974.34 552.42L973.94 553.56L973.76 554.71L973.75 555.76L973.82 556.67L973.9 557.38L973.93 557.88ZM972.55 584.18L973.28 583.69L974.27 583.01L975.43 582.24L976.65 581.49L977.82 580.87L978.84 580.45L979.83 580.12L980.92 579.81L982.03 579.54L983.14 579.33L984.25 579.17L985.32 579.07L986.41 579.04L987.64 579.07L988.95 579.17L990.26 579.3L991.5 579.44L992.57 579.57L993.42 579.67L994.19 579.78L994.96 579.93L995.76 580.14L996.59 580.39L997.4 580.64L998.16 580.89L998.9 581.15L999.63 581.44L1000.29 581.73L1000.85 581.97L1001.28 582.16L1002.05 581.18L1001.79 580.81L1001.44 580.31L1001 579.7L1000.48 579.03L999.89 578.34L999.27 577.69L998.68 577.07L998.07 576.4L997.33 575.69L996.43 574.97L995.34 574.31L994.1 573.77L992.75 573.34L991.28 572.99L989.7 572.71L988.04 572.53L986.34 572.48L984.68 572.6L983.1 572.88L981.59 573.3L980.12 573.85L978.72 574.52L977.41 575.31L976.16 576.22L974.99 577.37L973.98 578.71L973.13 580.07L972.43 581.35L971.87 582.41L971.45 583.15ZM1001.28 555.58L1001.77 555.65L1002.42 555.84L1003.13 556.15L1003.82 556.54L1004.39 556.96L1004.78 557.36L1005.02 557.76L1005.19 558.27L1005.28 558.83L1005.3 559.42L1005.25 559.98L1005.14 560.48L1004.94 561.01L1004.61 561.65L1004.19 562.31L1003.72 562.91L1003.24 563.38L1002.84 563.66L1002.43 563.78L1001.91 563.83L1001.34 563.78L1000.75 563.65L1000.22 563.46L999.79 563.25L999.41 562.99L998.98 562.61L998.57 562.15L998.21 561.63L997.93 561.1L997.77 560.6L997.71 560.05L997.74 559.39L997.85 558.7L998.03 558.03L998.27 557.47L998.52 557.06L998.84 556.71L999.28 556.34L999.8 556.02L1000.34 555.77L1000.85 555.63ZM1000.41 553.15L999.48 553.4L998.6 553.79L997.79 554.3L997.08 554.9L996.48 555.61L996.03 556.43L995.72 557.34L995.53 558.28L995.44 559.24L995.45 560.17L995.57 561.06L995.81 561.92L996.18 562.75L996.64 563.54L997.19 564.26L997.82 564.9L998.54 565.41L999.34 565.78L1000.2 566.02L1001.1 566.14L1002.02 566.14L1002.94 565.99L1003.83 565.68L1004.64 565.17L1005.39 564.51L1006.08 563.76L1006.68 562.93L1007.18 562.07L1007.53 561.19L1007.71 560.3L1007.74 559.39L1007.63 558.48L1007.4 557.59L1007.05 556.75L1006.56 555.98L1005.91 555.28L1005.13 554.65L1004.26 554.08L1003.33 553.6L1002.37 553.25L1001.39 553.08ZM1007.74 559.81L1008.01 559.12L1008.36 558.18L1008.78 557.12L1009.27 556.05L1009.82 555.08L1010.42 554.3L1011.13 553.53L1011.98 552.7L1012.89 551.9L1013.84 551.18L1014.8 550.56L1015.72 550.06L1016.73 549.63L1017.88 549.2L1019.11 548.82L1020.37 548.52L1021.58 548.32L1022.67 548.25L1023.7 548.29L1024.77 548.44L1025.82 548.67L1026.79 548.98L1027.59 549.32L1028.18 549.66L1028.65 550.01L1029.07 550.4L1029.4 550.8L1029.63 551.19L1029.78 551.55L1029.84 551.9L1029.82 552.4L1029.67 553.17L1029.39 554.11L1028.97 555.16L1028.45 556.26L1027.87 557.31L1027.19 558.32L1026.33 559.4L1025.31 560.56L1024.17 561.79L1022.98 563.09L1021.83 564.41L1020.71 565.74L1019.54 567.1L1018.35 568.5L1017.18 569.9L1016.06 571.28L1015.05 572.6L1014.12 573.93L1013.25 575.28L1012.46 576.59L1011.77 577.78L1011.2 578.77L1010.78 579.5L1011.89 580.5L1012.57 580L1013.5 579.32L1014.6 578.52L1015.81 577.62L1017.06 576.68L1018.29 575.73L1019.54 574.75L1020.89 573.68L1022.31 572.54L1023.75 571.35L1025.17 570.13L1026.5 568.93L1027.76 567.75L1029.04 566.54L1030.32 565.27L1031.57 563.93L1032.75 562.51L1033.8 561.03L1034.67 559.52L1035.41 557.98L1036.03 556.41L1036.5 554.8L1036.79 553.14L1036.83 551.44L1036.55 549.75L1035.98 548.19L1035.18 546.8L1034.2 545.59L1033.08 544.55L1031.82 543.67L1030.41 542.97L1028.89 542.44L1027.3 542.06L1025.66 541.81L1024 541.71L1022.33 541.75L1020.67 541.95L1018.99 542.28L1017.31 542.74L1015.66 543.33L1014.08 544.06L1012.61 544.94L1011.29 545.99L1010.12 547.18L1009.11 548.45L1008.24 549.75L1007.52 551.05L1006.92 552.37L1006.48 553.78L1006.26 555.24L1006.2 556.61L1006.22 557.83L1006.26 558.82L1006.26 559.52ZM1012.17 579.72L1012.84 579.38L1013.76 578.91L1014.81 578.38L1015.92 577.87L1016.97 577.46L1017.89 577.18L1018.79 576.96L1019.76 576.72L1020.74 576.53L1021.7 576.38L1022.63 576.28L1023.51 576.25L1024.44 576.27L1025.5 576.36L1026.64 576.5L1027.8 576.67L1028.91 576.86L1029.88 577.01L1030.72 577.13L1031.56 577.28L1032.44 577.47L1033.32 577.71L1034.19 577.98L1034.97 578.23L1035.64 578.45L1036.23 578.68L1036.78 578.92L1037.26 579.16L1037.67 579.37L1037.99 579.53L1038.68 578.8L1038.51 578.51L1038.3 578.1L1038.01 577.6L1037.66 577.02L1037.21 576.4L1036.7 575.77L1036.16 575.12L1035.56 574.38L1034.85 573.57L1034 572.75L1032.96 571.97L1031.79 571.32L1030.53 570.82L1029.18 570.4L1027.73 570.06L1026.22 569.83L1024.68 569.71L1023.15 569.75L1021.68 569.97L1020.28 570.32L1018.95 570.8L1017.7 571.39L1016.55 572.05L1015.45 572.82L1014.39 573.78L1013.47 574.9L1012.69 576.04L1012.05 577.11L1011.54 577.99L1011.16 578.61ZM1010.91 540.83L1011.91 540.78L1013.29 540.75L1014.94 540.69L1016.75 540.59L1018.62 540.4L1020.41 540.11L1022.14 539.71L1023.89 539.23L1025.66 538.68L1027.44 538.07L1029.22 537.4L1031 536.68L1032.82 535.85L1034.64 534.9L1036.42 533.93L1038.13 532.99L1039.74 532.15L1041.23 531.46L1042.65 530.88L1044.01 530.35L1045.26 529.92L1046.43 529.58L1047.52 529.34L1048.58 529.2L1049.65 529.13L1050.71 529.13L1051.71 529.21L1052.62 529.36L1053.4 529.58L1054.06 529.86L1054.69 530.23L1055.33 530.71L1055.91 531.24L1056.38 531.77L1056.7 532.25L1056.89 532.63L1057.07 533.07L1057.25 533.7L1057.4 534.48L1057.48 535.35L1057.49 536.25L1057.43 537.12L1057.27 538.03L1056.96 539.1L1056.52 540.3L1055.97 541.54L1055.36 542.76L1054.73 543.89L1054.06 544.92L1053.26 545.95L1052.39 546.96L1051.48 547.94L1050.59 548.86L1049.83 549.67L1049.18 550.36L1048.52 551.02L1047.84 551.63L1047.18 552.19L1046.59 552.67L1046.13 553.04L1047.2 555.3L1047.73 555.2L1048.47 555.1L1049.41 554.93L1050.5 554.66L1051.67 554.25L1052.84 553.66L1053.96 552.96L1055.14 552.14L1056.36 551.2L1057.6 550.15L1058.81 549L1059.94 547.78L1060.98 546.51L1062 545.17L1062.98 543.72L1063.88 542.19L1064.65 540.57L1065.23 538.88L1065.6 537.18L1065.78 535.47L1065.77 533.75L1065.57 532.04L1065.14 530.35L1064.44 528.71L1063.44 527.2L1062.24 525.93L1060.92 524.89L1059.53 524.03L1058.09 523.34L1056.61 522.81L1055.07 522.44L1053.51 522.25L1051.95 522.21L1050.42 522.3L1048.92 522.5L1047.42 522.8L1045.94 523.21L1044.49 523.73L1043.07 524.33L1041.67 525.01L1040.26 525.74L1038.77 526.54L1037.16 527.47L1035.5 528.52L1033.83 529.62L1032.17 530.7L1030.56 531.73L1029 532.65L1027.43 533.51L1025.83 534.35L1024.23 535.15L1022.65 535.9L1021.1 536.6L1019.59 537.22L1018.02 537.8L1016.33 538.33L1014.64 538.81L1013.07 539.23L1011.73 539.57L1010.76 539.84ZM1046.48 555.07L1047.3 555.39L1048.44 555.8L1049.71 556.29L1050.96 556.86L1052 557.45L1052.67 558.02L1053.2 558.64L1053.77 559.36L1054.27 560.12L1054.69 560.89L1055 561.61L1055.21 562.25L1055.38 562.92L1055.55 563.68L1055.67 564.46L1055.72 565.19L1055.71 565.8L1055.63 566.24L1055.48 566.7L1055.21 567.32L1054.82 567.99L1054.34 568.68L1053.78 569.32L1053.18 569.89L1052.47 570.42L1051.58 570.96L1050.55 571.46L1049.42 571.92L1048.24 572.31L1047.04 572.61L1045.75 572.82L1044.28 572.95L1042.71 572.98L1041.12 572.95L1039.58 572.86L1038.2 572.75L1036.94 572.58L1035.67 572.32L1034.39 571.98L1033.14 571.6L1031.95 571.19L1030.9 570.83L1030 570.51L1029.19 570.17L1028.44 569.8L1027.77 569.44L1027.2 569.11L1026.75 568.87L1025.91 569.8L1026.18 570.2L1026.51 570.76L1026.95 571.45L1027.53 572.23L1028.25 573.05L1029.1 573.84L1030.05 574.61L1031.11 575.44L1032.32 576.31L1033.68 577.16L1035.18 577.94L1036.8 578.58L1038.51 579.09L1040.31 579.49L1042.21 579.81L1044.14 580.02L1046.07 580.11L1047.96 580.05L1049.79 579.85L1051.58 579.51L1053.32 579.04L1055.01 578.43L1056.63 577.68L1058.15 576.78L1059.56 575.72L1060.85 574.51L1061.99 573.17L1062.97 571.72L1063.78 570.15L1064.37 568.43L1064.67 566.6L1064.7 564.81L1064.5 563.08L1064.11 561.43L1063.54 559.88L1062.79 558.42L1061.85 557.08L1060.74 555.89L1059.52 554.86L1058.21 553.97L1056.82 553.24L1055.33 552.64L1053.66 552.28L1051.95 552.18L1050.33 552.25L1048.87 552.38L1047.68 552.52L1046.85 552.6Z" fill="url(#gr)"/>
</g>
</svg>
</body></html>
